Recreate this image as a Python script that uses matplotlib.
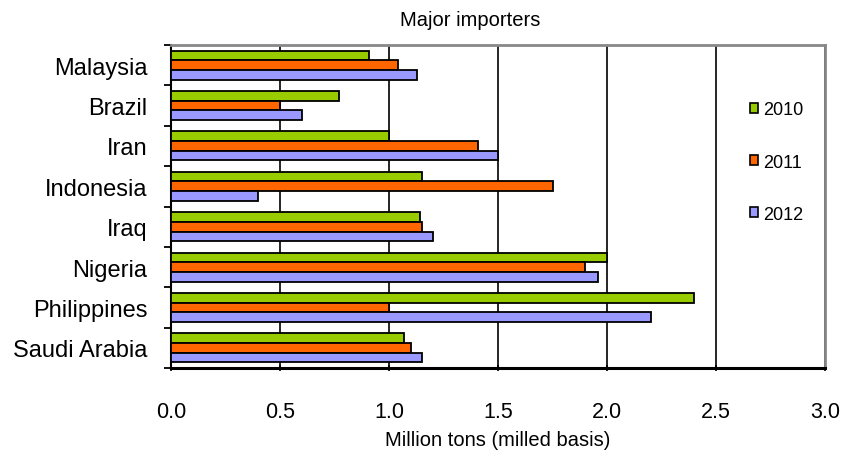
import matplotlib
matplotlib.use("Agg")
import matplotlib.pyplot as plt
import numpy as np
from matplotlib.patches import Patch

plt.rcParams['font.family'] = ['Liberation Sans', 'DejaVu Sans']

countries = ["Malaysia", "Brazil", "Iran", "Indonesia", "Iraq", "Nigeria",
             "Philippines", "Saudi Arabia"]
years = ["2010", "2011", "2012"]
v2010 = [0.91, 0.77, 1.00, 1.15, 1.14, 2.00, 2.40, 1.07]
v2011 = [1.04, 0.50, 1.41, 1.75, 1.15, 1.90, 1.00, 1.10]
v2012 = [1.13, 0.60, 1.50, 0.40, 1.20, 1.96, 2.20, 1.15]
xticks = [0.0, 0.5, 1.0, 1.5, 2.0, 2.5, 3.0]

colors = ["#99CC00", "#FF6600", "#9999FF"]

fig = plt.figure(figsize=(8.43, 4.52), dpi=100)
ax = fig.add_axes([171 / 843, 1 - 369 / 452, (825 - 171) / 843, (369 - 46) / 452])

n = len(countries)
pos = np.arange(n)
h = 0.24
series = [v2010, v2011, v2012]
for i, (vals, c) in enumerate(zip(series, colors)):
    ax.barh(pos + (i - 1) * h, vals, height=h, color=c,
            edgecolor="black", linewidth=1.3, zorder=3)

ax.set_ylim(n - 0.5, -0.5)
ax.set_xlim(0, 3.0)
ax.set_yticks(np.arange(n))
ax.set_yticklabels(countries, fontsize=17)
ax.set_yticks(np.arange(n + 1) - 0.5, minor=True)
ax.tick_params(axis="y", which="major", length=0, pad=17)
ax.tick_params(axis="y", which="minor", length=5, width=1.3, direction="out")

ax.set_xticks(xticks)
ax.set_xticklabels([f"{t:.1f}" for t in xticks], fontsize=15.5)
ax.tick_params(axis="x", length=5, width=1.2, direction="inout", pad=21)

ax.grid(axis="x", color="black", linewidth=1.2, zorder=1)
ax.set_axisbelow(True)

for side in ("top", "right"):
    ax.spines[side].set_color("#888888")
    ax.spines[side].set_linewidth(2)
ax.spines["left"].set_linewidth(1.5)
ax.spines["bottom"].set_linewidth(2.2)

ax.set_xlabel("Million tons (milled basis)", fontsize=14.5, labelpad=6)
fig.text(470 / 843, 1 - 20 / 452, "Major importers", fontsize=14.5,
         ha="center", va="center")

handles = [Patch(facecolor=c, edgecolor="black", linewidth=1.2) for c in colors]
ax.legend(handles, years, loc="upper left", bbox_to_anchor=(0.874, 0.848),
          frameon=False, fontsize=13, handlelength=0.45, handleheight=0.45,
          handletextpad=0.3, labelspacing=1.95, borderaxespad=0)

fig.savefig("out.png", dpi=100, facecolor="white")
